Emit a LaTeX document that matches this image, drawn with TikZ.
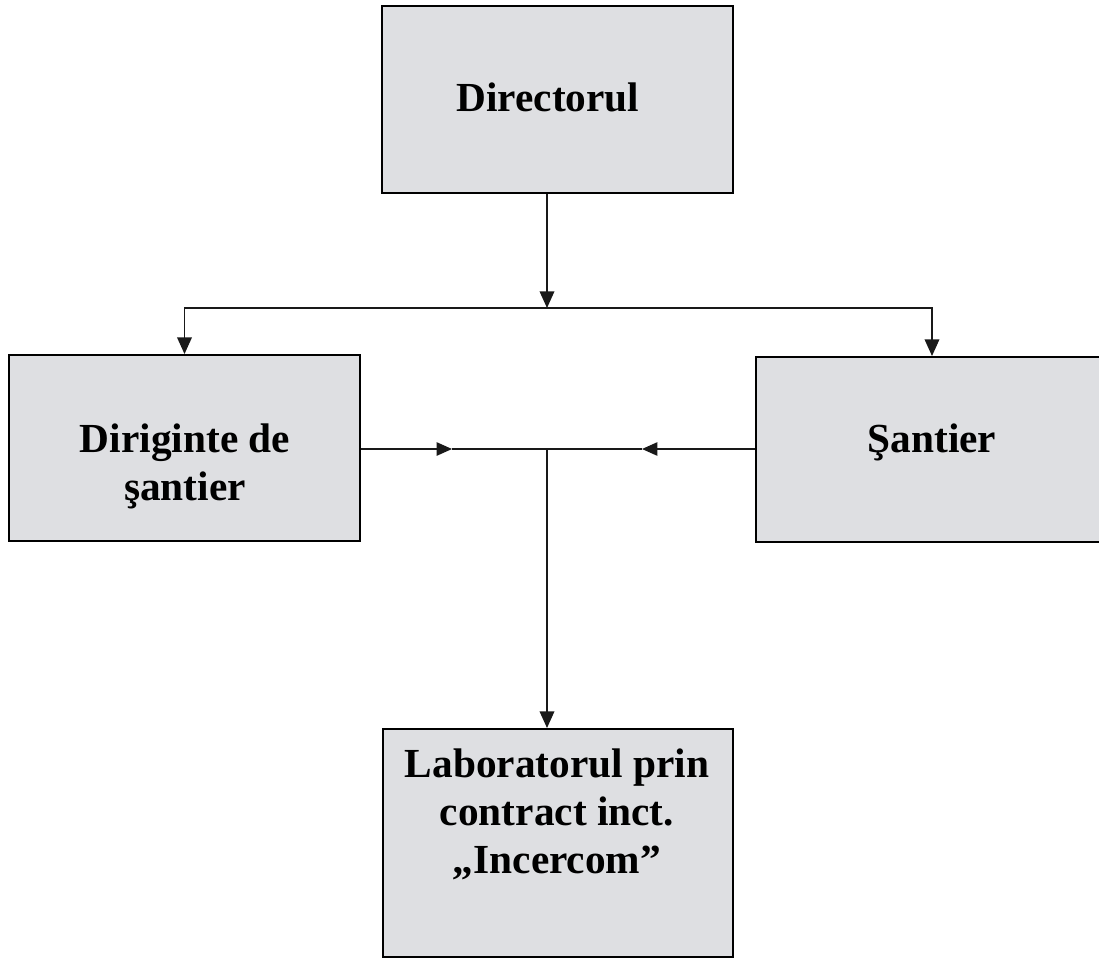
\documentclass[tikz,border=0pt]{standalone}
\usepackage{fontspec}
\setmainfont{Liberation Serif}
\usetikzlibrary{arrows.meta}
\definecolor{boxgray}{RGB}{222,223,226}
\tikzset{
  box/.style={draw=black, line width=1.5pt, fill=boxgray, inner sep=0pt},
  lbl/.style={font=\fontsize{31}{36}\selectfont\bfseries, align=center, inner sep=0pt},
  conn/.style={line width=1.1pt, draw=black!90},
  arr/.style={conn, -{Triangle[length=12.5pt,width=11pt]}},
  midarr/.style={conn, -{Triangle[length=11.5pt,width=10pt]}}
}
\begin{document}
\begin{tikzpicture}[x=0.75pt,y=-0.75pt]
\useasboundingbox (0,0) rectangle (1099,958);
\clip (0,0) rectangle (1099,958);
\fill[white] (0,0) rectangle (1099,958);
% boxes
\node[box, minimum width=263.25pt, minimum height=140.25pt] (dir) at (557.5,99.5) {};
\node[box, minimum width=263.25pt, minimum height=139.5pt] (dirig) at (184.5,448) {};
\node[box, minimum width=264pt, minimum height=138.75pt] (sant) at (932,449.5) {};
\node[box, minimum width=262.5pt, minimum height=171pt] (lab) at (558,843) {};
% texts
\node[lbl] (dirT) at (548,97) {Directorul};
\node[lbl] (dirigT) at (185,466) {Diriginte de\\şantier};
\node[lbl] (santT) at (932,442) {Şantier};
\node[lbl] (labT) at (557,814) {Laboratorul prin\\contract inct.\\„Incercom”};
% connectors
\coordinate (t) at (547,308);
\coordinate (m) at (547,449);
\coordinate (ma) at (452,449);
\coordinate (mb) at (642,449);
\draw[arr] (t |- dir.south) -- (t);
\draw[arr] (t) -| (dirig.north);
\draw[arr] (t) -| (sant.north);
\draw[midarr] (dirig.east |- m) -- (ma);
\draw[conn] (ma) -- (mb);
\draw[midarr] (sant.west |- m) -- (mb);
\draw[arr] (m) -- (m |- lab.north);
\end{tikzpicture}
\end{document}
